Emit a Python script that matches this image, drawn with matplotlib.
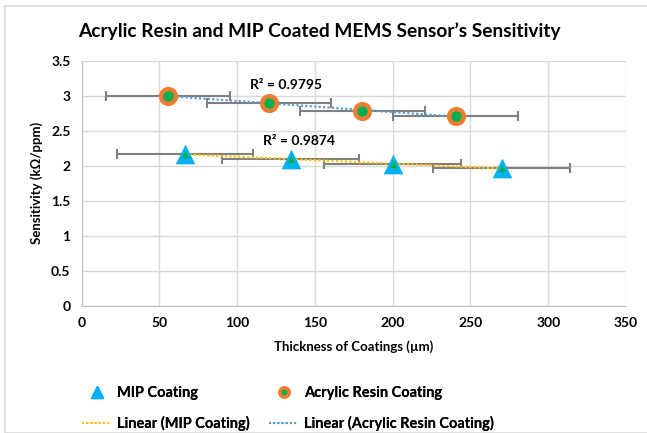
import numpy as np
import matplotlib
matplotlib.use("Agg")
import matplotlib.pyplot as plt
from matplotlib.lines import Line2D
from matplotlib.patches import Rectangle

plt.rcParams['font.family'] = ['Lato', 'DejaVu Sans']

# thickness (um) vs sensitivity (kOhm/ppm)
mip_x = [66.5, 134.5, 200, 270]
mip_y = [2.17, 2.09, 2.02, 1.97]
mip_err = [44, 44, 44, 44]

acr_x = [55.5, 120.5, 180.5, 240.5]
acr_y = [3.0, 2.895, 2.775, 2.715]
acr_err = [40, 40, 40, 40]

r2_labels = ["R² = 0.9874", "R² = 0.9795"]

mip_blue = "#00b0f0"
acr_orange = "#ed7d31"
dot_green = "#00b050"
trend_yellow = "#ffc000"
trend_blue = "#5b9bd5"
err_gray = "#808080"

fig = plt.figure(figsize=(6.47, 4.33), dpi=100)
ax = fig.add_axes([0.126, 0.2933, 0.8415, 0.5667])

# outer chart border
fig.patches.append(Rectangle((5 / 647, 0), 1.0, 1 - 6 / 433, transform=fig.transFigure,
                             fill=False, edgecolor="#d9d9d9", linewidth=1.2))

# error bars
ax.errorbar(mip_x, mip_y, xerr=mip_err, fmt="none", ecolor=err_gray,
            elinewidth=1.5, capsize=3.5, capthick=1.5, zorder=2)
ax.errorbar(acr_x, acr_y, xerr=acr_err, fmt="none", ecolor=err_gray,
            elinewidth=1.5, capsize=3.5, capthick=1.5, zorder=2)

# linear trendlines
for xs, ys, c in [(mip_x, mip_y, trend_yellow), (acr_x, acr_y, trend_blue)]:
    k, b = np.polyfit(xs, ys, 1)
    xx = np.array([min(xs), max(xs)])
    ax.plot(xx, k * xx + b, linestyle=(0, (1, 1)), color=c, linewidth=1.6, zorder=3)

# markers
ax.scatter(mip_x, mip_y, marker="^", s=200, color=mip_blue, zorder=4, linewidths=0)
ax.scatter(mip_x, mip_y, marker="^", s=28, color=dot_green, zorder=5, linewidths=0)
ax.scatter(acr_x, acr_y, marker="o", s=190, color=acr_orange, zorder=4, linewidths=0)
ax.scatter(acr_x, acr_y, marker="o", s=55, color=dot_green, zorder=5, linewidths=0)

ax.text(140, 2.347, r2_labels[0], ha="center", va="center", fontsize=10, fontweight="bold")
ax.text(131.3, 3.157, r2_labels[1], ha="center", va="center", fontsize=10, fontweight="bold")

ax.set_xlim(0, 350)
ax.set_ylim(0, 3.5)
ax.set_xticks(np.arange(0, 351, 50))
ax.set_yticks(np.arange(0, 3.51, 0.5))
ax.set_yticklabels(["0", "0.5", "1", "1.5", "2", "2.5", "3", "3.5"])
ax.grid(True, color="#d9d9d9", linewidth=1)
ax.set_axisbelow(True)
ax.tick_params(length=0, labelsize=10, pad=8)
for lab in ax.get_xticklabels() + ax.get_yticklabels():
    lab.set_fontweight("bold")
for side in ["top", "right"]:
    ax.spines[side].set_visible(False)
for side in ["left", "bottom"]:
    ax.spines[side].set_color("#bfbfbf")

ax.set_xlabel("Thickness of Coatings (µm)", fontsize=9.5, fontweight="bold", labelpad=8)
ax.set_ylabel("Sensitivity (kΩ/ppm)", fontsize=9.5, fontweight="bold", labelpad=6)
fig.text(0.493, 1 - 31 / 433, "Acrylic Resin and MIP Coated MEMS Sensor’s Sensitivity",
         ha="center", va="center", fontsize=13.8, fontweight="bold")

# legend: one column per series
mip_handle = Line2D([], [], marker="^", color=mip_blue, linestyle="none", markersize=9)
acr_handle = (Line2D([], [], marker="o", color=acr_orange, linestyle="none", markersize=8),
              Line2D([], [], marker="o", color=dot_green, linestyle="none", markersize=3))
columns = [
    ([mip_handle, Line2D([], [], color=trend_yellow, linestyle=(0, (1, 1)), linewidth=1.5)],
     ["MIP Coating", "Linear (MIP Coating)"], 82),
    ([acr_handle, Line2D([], [], color=trend_blue, linestyle=(0, (1, 1)), linewidth=1.5)],
     ["Acrylic Resin Coating", "Linear (Acrylic Resin Coating)"], 269),
]
for hs, ls, x0 in columns:
    leg = fig.legend(hs, ls, loc="center left", bbox_to_anchor=(x0 / 647, 0.0566),
                     frameon=False, handlelength=2.0, handletextpad=0.4,
                     labelspacing=1.05, borderpad=0, borderaxespad=0,
                     prop={"weight": "bold", "size": 10.5})
    fig.add_artist(leg)

fig.savefig("out.png", dpi=100)
